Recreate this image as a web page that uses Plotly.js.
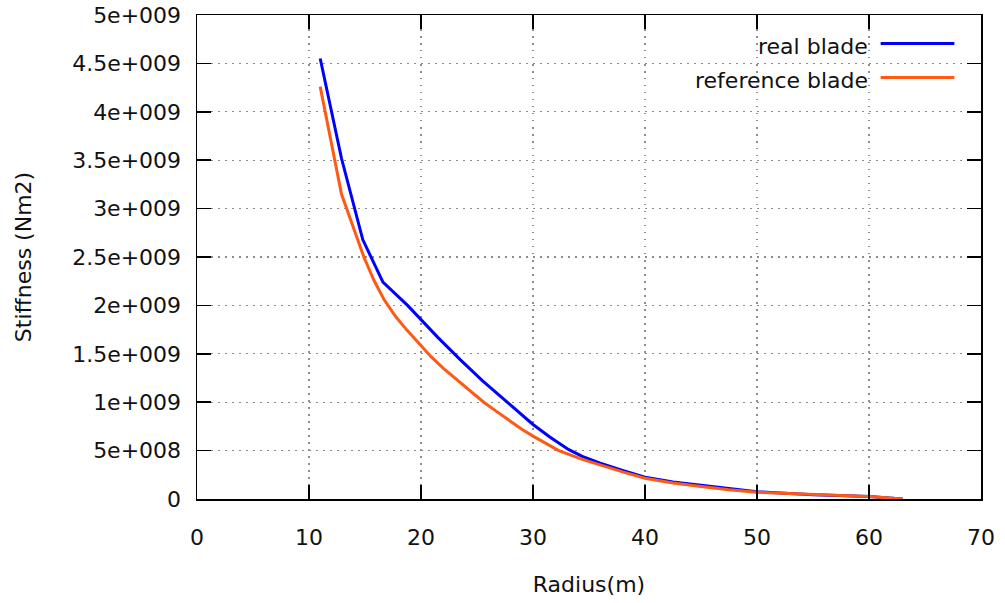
<!DOCTYPE html>
<html>
<head>
<meta charset="utf-8">
<script src="https://cdn.plot.ly/plotly-3.0.1.min.js"></script>
<style>
  html, body { margin: 0; padding: 0; background: #ffffff; }
  #chart { width: 1005px; height: 603px; }
</style>
</head>
<body>
<div id="chart"></div>
<script>
// Flapwise bending stiffness along the blade span
const seriesNames = ["real blade", "reference blade"];

const realRadius = [11.0, 12.9, 14.8, 16.6, 18.8, 20.0, 21.5, 23.5, 25.5, 27.8, 30.0, 31.5, 33.2, 34.4, 36.0, 38.0, 40.0, 42.5, 45.0, 47.5, 50.0, 55.0, 60.0, 63.0];
const realStiff  = [4.55e9, 3.52e9, 2.68e9, 2.24e9, 2.0e9, 1.85e9, 1.67e9, 1.44e9, 1.22e9, 0.99e9, 0.77e9, 0.64e9, 0.51e9, 0.44e9, 0.37e9, 0.295e9, 0.225e9, 0.175e9, 0.14e9, 0.105e9, 0.075e9, 0.045e9, 0.027e9, 0.0];

const refRadius = [11.0, 12.9, 14.9, 15.8, 16.7, 17.7, 18.7, 20.0, 20.9, 22.0, 23.4, 24.5, 25.6, 26.8, 28.0, 29.0, 30.0, 31.2, 32.3, 34.4, 36.0, 38.0, 40.0, 42.5, 45.0, 47.5, 50.0, 55.0, 60.0, 63.0];
const refStiff  = [4.26e9, 3.15e9, 2.5e9, 2.26e9, 2.06e9, 1.89e9, 1.75e9, 1.58e9, 1.47e9, 1.35e9, 1.21e9, 1.10e9, 1.0e9, 0.90e9, 0.80e9, 0.72e9, 0.65e9, 0.57e9, 0.50e9, 0.41e9, 0.35e9, 0.28e9, 0.215e9, 0.165e9, 0.13e9, 0.095e9, 0.07e9, 0.045e9, 0.027e9, 0.0];

const yTickVals = [0, 5e8, 1e9, 1.5e9, 2e9, 2.5e9, 3e9, 3.5e9, 4e9, 4.5e9, 5e9];
const yTickText = ["0", "5e+008", "1e+009", "1.5e+009", "2e+009", "2.5e+009", "3e+009", "3.5e+009", "4e+009", "4.5e+009", "5e+009"];
const xTickVals = [0, 10, 20, 30, 40, 50, 60, 70];

const colors = ["#0000ff", "#ff5a14"];
const font = { family: "DejaVu Sans, Verdana, sans-serif", size: 22, color: "#111111" };

const traces = [
  { x: realRadius, y: realStiff, name: seriesNames[0], mode: "lines",
    line: { color: colors[0], width: 3 }, showlegend: false },
  { x: refRadius, y: refStiff, name: seriesNames[1], mode: "lines",
    line: { color: colors[1], width: 3 }, showlegend: false }
];

const axisCommon = {
  showline: true, linecolor: "#000000", linewidth: 1.5, mirror: "allticks",
  ticks: "inside", ticklen: 14, tickwidth: 1.5, tickcolor: "#000000",
  showgrid: true, gridcolor: "#8c8c8c", griddash: "1.5px,5.5px", gridwidth: 1.2,
  zeroline: false, tickfont: font, fixedrange: true
};

// key drawn top-right: label text followed by a line sample
const keyY = [0.935, 0.865];
const annotations = seriesNames.map((n, i) => ({
  xref: "paper", yref: "paper", x: 0.858, y: keyY[i], xanchor: "right", yanchor: "middle",
  text: n, showarrow: false, font: font
}));
const shapes = seriesNames.map((n, i) => ({
  type: "line", xref: "paper", yref: "paper", x0: 0.872, x1: 0.966, y0: keyY[i] + 0.006, y1: keyY[i] + 0.006,
  line: { color: colors[i], width: 3 }
}));

const layout = {
  width: 1005, height: 603,
  margin: { l: 197, r: 24, t: 15, b: 104 },
  paper_bgcolor: "#ffffff", plot_bgcolor: "#ffffff",
  font: font,
  xaxis: Object.assign({}, axisCommon, {
    range: [0, 70], tickvals: xTickVals, ticklabelstandoff: 18,
    title: { text: "Radius(m)", font: font, standoff: 27 }
  }),
  yaxis: Object.assign({}, axisCommon, {
    range: [0, 5e9], tickvals: yTickVals, ticktext: yTickText, ticklabelstandoff: 10,
    title: { text: "Stiffness (Nm2)", font: font, standoff: 34 }
  }),
  annotations: annotations,
  shapes: shapes
};

Plotly.newPlot("chart", traces, layout, { staticPlot: true });
</script>
</body>
</html>
